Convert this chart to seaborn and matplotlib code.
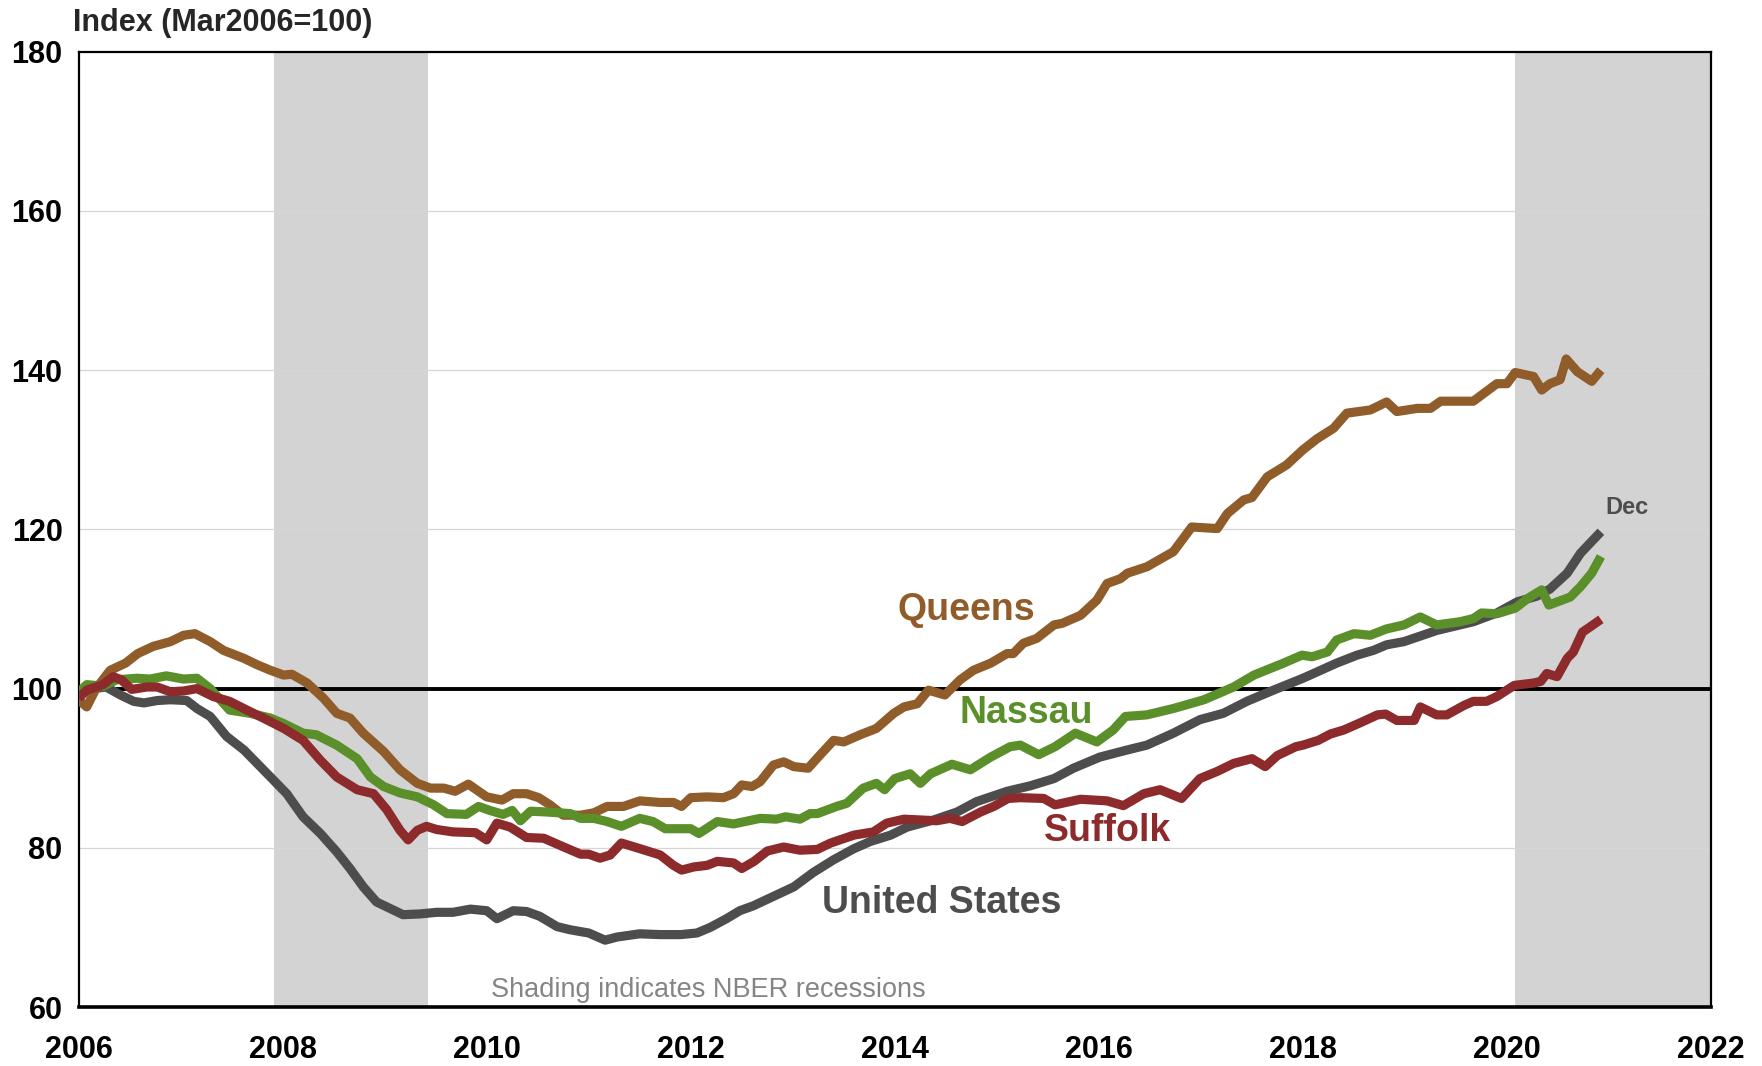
import numpy as np
import pandas as pd
import matplotlib
matplotlib.use("Agg")
import matplotlib.pyplot as plt
import seaborn as sns

# House price index, Mar2006=100 (decimal year, value)
queens_x = [2006.00, 2006.08, 2006.17, 2006.31, 2006.46, 2006.58, 2006.73, 2006.90, 2007.03, 2007.14,
            2007.29, 2007.42, 2007.62, 2007.75, 2007.88, 2008.01, 2008.09, 2008.24, 2008.40, 2008.53,
            2008.66, 2008.79, 2008.99, 2009.15, 2009.32, 2009.45, 2009.58, 2009.69, 2009.82, 2010.00,
            2010.15, 2010.26, 2010.39, 2010.51, 2010.62, 2010.75, 2010.92, 2011.05, 2011.18, 2011.34,
            2011.50, 2011.70, 2011.83, 2011.91, 2012.00, 2012.16, 2012.32, 2012.42, 2012.50, 2012.60,
            2012.68, 2012.81, 2012.91, 2013.01, 2013.15, 2013.27, 2013.40, 2013.50, 2013.66, 2013.82,
            2013.99, 2014.09, 2014.22, 2014.33, 2014.49, 2014.64, 2014.77, 2014.94, 2015.10, 2015.16,
            2015.26, 2015.39, 2015.56, 2015.64, 2015.82, 2015.98, 2016.08, 2016.21, 2016.28, 2016.47,
            2016.73, 2016.91, 2017.16, 2017.26, 2017.42, 2017.50, 2017.65, 2017.84, 2018.00, 2018.14,
            2018.30, 2018.43, 2018.66, 2018.82, 2018.92, 2019.12, 2019.25, 2019.35, 2019.67, 2019.90,
            2020.00, 2020.08, 2020.26, 2020.34, 2020.42, 2020.52, 2020.58, 2020.69, 2020.83, 2020.92]
queens_y = [98.6, 97.7, 100.0, 102.3, 103.2, 104.4, 105.3, 105.9, 106.7, 106.9,
            105.9, 104.8, 103.8, 103.0, 102.3, 101.7, 101.8, 100.7, 98.8, 96.9,
            96.3, 94.4, 92.1, 89.8, 88.1, 87.5, 87.5, 87.1, 88.0, 86.4,
            86.0, 86.8, 86.8, 86.3, 85.4, 84.1, 84.1, 84.4, 85.2, 85.2,
            85.9, 85.7, 85.7, 85.2, 86.3, 86.4, 86.3, 86.8, 87.9, 87.7,
            88.3, 90.4, 90.8, 90.2, 90.0, 91.7, 93.5, 93.3, 94.2, 95.0,
            96.9, 97.7, 98.1, 99.8, 99.2, 101.1, 102.3, 103.2, 104.4, 104.4,
            105.7, 106.3, 108.0, 108.2, 109.2, 111.1, 113.2, 113.8, 114.5, 115.3,
            117.2, 120.3, 120.1, 122.0, 123.7, 124.0, 126.6, 128.1, 130.0, 131.4,
            132.7, 134.6, 135.0, 136.0, 134.8, 135.2, 135.2, 136.1, 136.1, 138.3,
            138.3, 139.7, 139.2, 137.5, 138.3, 138.8, 141.4, 139.8, 138.6, 140.0]

nassau_x = [2006.00, 2006.08, 2006.24, 2006.37, 2006.57, 2006.70, 2006.86, 2007.03, 2007.16, 2007.29,
            2007.48, 2007.68, 2007.88, 2008.01, 2008.20, 2008.33, 2008.53, 2008.73, 2008.86, 2008.99,
            2009.15, 2009.32, 2009.48, 2009.61, 2009.80, 2009.92, 2010.03, 2010.16, 2010.25, 2010.33,
            2010.43, 2010.59, 2010.82, 2010.92, 2011.05, 2011.18, 2011.32, 2011.50, 2011.63, 2011.75,
            2012.00, 2012.08, 2012.26, 2012.42, 2012.68, 2012.84, 2012.93, 2013.07, 2013.17, 2013.24,
            2013.43, 2013.53, 2013.69, 2013.82, 2013.90, 2014.00, 2014.15, 2014.25, 2014.35, 2014.56,
            2014.74, 2014.94, 2015.13, 2015.23, 2015.41, 2015.57, 2015.77, 2015.98, 2016.14, 2016.26,
            2016.47, 2016.73, 2017.03, 2017.32, 2017.52, 2017.81, 2017.99, 2018.09, 2018.24, 2018.33,
            2018.50, 2018.66, 2018.82, 2018.99, 2019.15, 2019.31, 2019.54, 2019.67, 2019.75, 2019.90,
            2020.08, 2020.20, 2020.34, 2020.41, 2020.62, 2020.72, 2020.83, 2020.92]
nassau_y = [99.5, 100.5, 100.3, 101.1, 101.3, 101.2, 101.6, 101.2, 101.3, 100.0,
            97.3, 96.9, 96.3, 95.6, 94.4, 94.2, 92.9, 91.2, 88.9, 87.7,
            86.9, 86.4, 85.4, 84.3, 84.2, 85.2, 84.7, 84.2, 84.7, 83.4,
            84.6, 84.5, 84.3, 83.7, 83.7, 83.3, 82.7, 83.7, 83.3, 82.4,
            82.4, 81.8, 83.3, 83.0, 83.7, 83.6, 83.9, 83.6, 84.3, 84.3,
            85.2, 85.6, 87.5, 88.1, 87.3, 88.7, 89.3, 88.1, 89.3, 90.5,
            89.8, 91.4, 92.7, 92.9, 91.7, 92.7, 94.4, 93.3, 94.8, 96.5,
            96.7, 97.5, 98.6, 100.2, 101.7, 103.2, 104.2, 104.0, 104.6, 106.1,
            106.9, 106.7, 107.5, 108.0, 109.0, 108.0, 108.4, 108.8, 109.5, 109.4,
            110.1, 111.3, 112.4, 110.5, 111.5, 112.8, 114.5, 116.6]

suffolk_x = [2006.00, 2006.08, 2006.24, 2006.34, 2006.42, 2006.52, 2006.67, 2006.77, 2006.90, 2007.03,
             2007.16, 2007.32, 2007.48, 2007.65, 2007.81, 2008.01, 2008.20, 2008.37, 2008.53, 2008.73,
             2008.89, 2009.02, 2009.15, 2009.23, 2009.32, 2009.41, 2009.51, 2009.67, 2009.89, 2010.00,
             2010.10, 2010.23, 2010.39, 2010.56, 2010.72, 2010.92, 2011.00, 2011.11, 2011.21, 2011.32,
             2011.50, 2011.70, 2011.83, 2011.91, 2012.03, 2012.16, 2012.26, 2012.42, 2012.50, 2012.62,
             2012.75, 2012.91, 2013.07, 2013.24, 2013.37, 2013.60, 2013.79, 2013.92, 2014.09, 2014.25,
             2014.41, 2014.54, 2014.66, 2014.84, 2014.97, 2015.11, 2015.23, 2015.46, 2015.57, 2015.82,
             2016.08, 2016.24, 2016.44, 2016.60, 2016.81, 2016.99, 2017.16, 2017.32, 2017.50, 2017.63,
             2017.75, 2017.93, 2018.00, 2018.15, 2018.27, 2018.40, 2018.56, 2018.73, 2018.81, 2018.92,
             2019.09, 2019.15, 2019.31, 2019.41, 2019.58, 2019.67, 2019.80, 2019.90, 2020.07, 2020.26,
             2020.33, 2020.39, 2020.49, 2020.59, 2020.65, 2020.74, 2020.82, 2020.92]
suffolk_y = [98.8, 99.8, 100.5, 101.5, 101.1, 99.9, 100.2, 100.2, 99.6, 99.7,
             100.0, 99.0, 98.4, 97.3, 96.3, 95.0, 93.5, 91.0, 88.9, 87.3,
             86.8, 84.8, 82.2, 81.0, 82.2, 82.7, 82.3, 82.0, 81.9, 81.0,
             83.1, 82.6, 81.3, 81.2, 80.3, 79.2, 79.2, 78.7, 79.1, 80.6,
             79.9, 79.1, 77.8, 77.2, 77.6, 77.8, 78.3, 78.1, 77.4, 78.3,
             79.6, 80.1, 79.7, 79.8, 80.6, 81.6, 82.0, 83.1, 83.6, 83.5,
             83.4, 83.7, 83.3, 84.5, 85.2, 86.2, 86.3, 86.2, 85.4, 86.1,
             85.9, 85.3, 86.8, 87.3, 86.2, 88.7, 89.6, 90.6, 91.2, 90.2,
             91.6, 92.7, 92.9, 93.5, 94.3, 94.8, 95.7, 96.7, 96.8, 96.0,
             96.0, 97.7, 96.7, 96.7, 97.9, 98.4, 98.4, 99.0, 100.4, 100.7,
             100.9, 101.9, 101.5, 103.8, 104.6, 107.1, 107.8, 108.7]

us_x = [2006.00, 2006.15, 2006.27, 2006.41, 2006.54, 2006.64, 2006.77, 2006.90, 2007.06, 2007.16,
        2007.29, 2007.45, 2007.62, 2007.75, 2007.88, 2008.04, 2008.20, 2008.37, 2008.53, 2008.66,
        2008.79, 2008.92, 2009.05, 2009.18, 2009.35, 2009.51, 2009.67, 2009.84, 2010.00, 2010.10,
        2010.26, 2010.39, 2010.52, 2010.69, 2010.82, 2011.00, 2011.16, 2011.28, 2011.50, 2011.70,
        2011.90, 2012.06, 2012.19, 2012.35, 2012.48, 2012.61, 2012.81, 2013.01, 2013.20, 2013.40,
        2013.60, 2013.76, 2013.96, 2014.12, 2014.38, 2014.61, 2014.80, 2015.10, 2015.33, 2015.56,
        2015.75, 2016.01, 2016.28, 2016.47, 2016.73, 2016.99, 2017.22, 2017.45, 2017.71, 2018.00,
        2018.33, 2018.53, 2018.69, 2018.82, 2018.99, 2019.31, 2019.67, 2019.90, 2020.10, 2020.29,
        2020.42, 2020.59, 2020.72, 2020.92]
us_y = [99.4, 100.0, 100.2, 99.2, 98.4, 98.2, 98.5, 98.6, 98.5, 97.5,
        96.5, 94.0, 92.3, 90.6, 88.9, 86.8, 83.9, 81.8, 79.5, 77.4,
        75.1, 73.2, 72.4, 71.6, 71.7, 71.9, 71.9, 72.3, 72.1, 71.1,
        72.1, 72.0, 71.4, 70.1, 69.7, 69.3, 68.4, 68.8, 69.2, 69.1,
        69.1, 69.3, 70.0, 71.1, 72.1, 72.7, 73.9, 75.1, 76.9, 78.5,
        79.9, 80.8, 81.6, 82.6, 83.5, 84.5, 85.8, 87.1, 87.8, 88.7,
        90.0, 91.4, 92.3, 92.9, 94.4, 96.1, 96.9, 98.4, 99.8, 101.3,
        103.2, 104.2, 104.8, 105.5, 105.9, 107.3, 108.4, 109.5, 110.9, 111.6,
        112.5, 114.5, 117.0, 119.7]

series_names = ["United States", "Queens", "Nassau", "Suffolk"]
colors = {"United States": "#4d4d4d", "Queens": "#8f5c2a",
          "Nassau": "#5a8f29", "Suffolk": "#8c2a2c"}

# NBER recessions
recessions = [(2007.917, 2009.42), (2020.083, 2022.0)]

df = pd.concat([
    pd.DataFrame({"year": us_x, "index": us_y, "series": "United States"}),
    pd.DataFrame({"year": queens_x, "index": queens_y, "series": "Queens"}),
    pd.DataFrame({"year": nassau_x, "index": nassau_y, "series": "Nassau"}),
    pd.DataFrame({"year": suffolk_x, "index": suffolk_y, "series": "Suffolk"}),
], ignore_index=True)

sns.set_style("white")
plt.rcParams["font.family"] = ["Liberation Sans", "DejaVu Sans"]

fig = plt.figure(figsize=(17.62, 10.66), dpi=100)
ax = fig.add_axes([0.0446, 0.0553, 0.9265, 0.8962])

for x0, x1 in recessions:
    ax.axvspan(x0, x1, color="#d3d3d3", lw=0, zorder=0)

sns.lineplot(data=df, x="year", y="index", hue="series", hue_order=series_names,
             palette=colors, linewidth=6.6, estimator=None, sort=False,
             legend=False, ax=ax, zorder=3)
for ln in ax.get_lines():
    ln.set_linewidth(6.6)
    ln.set_solid_capstyle("butt")
    ln.set_solid_joinstyle("round")

for v in [80, 120, 140, 160]:
    ax.axhline(v, color="#d6d6d6", lw=0.9, zorder=1)
ax.axhline(100, color="black", lw=2.8, zorder=2)

ax.set_xlim(2006, 2022)
ax.set_ylim(60, 180)
ax.set_xticks(np.arange(2006, 2023, 2))
ax.set_yticks(np.arange(60, 181, 20))
ax.set_xlabel("")
ax.set_ylabel("")

tick_font = {"weight": "bold", "size": 22}
ax.set_xticklabels([str(t) for t in range(2006, 2023, 2)], fontdict=tick_font)
ax.set_yticklabels([str(t) for t in range(60, 181, 20)], fontdict=tick_font)
ax.tick_params(axis="x", direction="out", length=8, width=1.5, pad=12, colors="black")
ax.tick_params(axis="y", direction="out", length=4.5, width=1.5, pad=7, colors="black")

for side in ["left", "top", "right"]:
    ax.spines[side].set_linewidth(1.6)
    ax.spines[side].set_color("black")
ax.spines["bottom"].set_linewidth(2.6)
ax.spines["bottom"].set_color("black")

fig.text(0.0414, 0.971, "Index (Mar2006=100)", fontsize=22, fontweight="bold",
         ha="left", va="baseline")

label_kw = dict(fontsize=27, fontweight="bold", ha="center", va="center", zorder=5)
ax.text(2014.70, 109.9, "Queens", color=colors["Queens"], **label_kw)
ax.text(2015.29, 96.9, "Nassau", color=colors["Nassau"], **label_kw)
ax.text(2016.09, 82.1, "Suffolk", color=colors["Suffolk"], **label_kw)
ax.text(2014.455, 73.1, "United States", color=colors["United States"], **label_kw)
ax.text(2021.18, 122.8, "Dec", color="#4d4d4d", fontsize=17, fontweight="bold",
        ha="center", va="center")
ax.text(2012.17, 62.1, "Shading indicates NBER recessions", color="#858585",
        fontsize=19.5, ha="center", va="center")

fig.savefig("out.png", dpi=100)
